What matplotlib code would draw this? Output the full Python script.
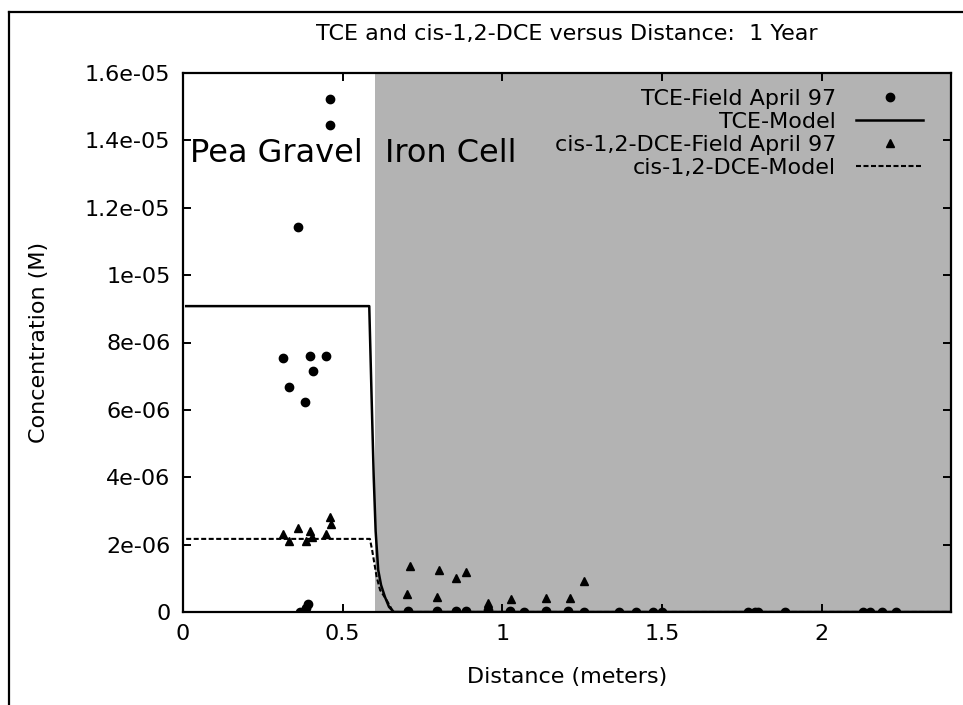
import matplotlib
matplotlib.use('Agg')
import matplotlib.pyplot as plt
from matplotlib.lines import Line2D
from matplotlib.ticker import FormatStrFormatter

plt.rcParams['font.family'] = ['DejaVu Sans']

# field data, April 97 (distance in m, concentration in M)
tce_x = [0.46, 0.46, 0.36, 0.313, 0.397, 0.448, 0.407, 0.332, 0.382,
         0.366, 0.385, 0.39,
         0.704, 0.795, 0.854, 0.886, 0.955, 1.023, 1.067, 1.136, 1.205, 1.255,
         1.365, 1.418, 1.471, 1.499, 1.77, 1.79, 1.80, 1.884, 2.13, 2.15, 2.188, 2.232]
tce_y = [15.22e-6, 14.45e-6, 11.42e-6, 7.54e-6, 7.6e-6, 7.6e-6, 7.15e-6, 6.68e-6, 6.23e-6,
         0.0, 0.12e-6, 0.25e-6,
         0.02e-6, 0.02e-6, 0.02e-6, 0.02e-6, 0.05e-6, 0.02e-6, 0.0, 0.02e-6, 0.02e-6, 0.0,
         0.0, 0.0, 0.0, 0.0, 0.0, 0.0, 0.0, 0.0, 0.0, 0.0, 0.0, 0.0]

dce_x = [0.313, 0.332, 0.36, 0.385, 0.397, 0.403, 0.448, 0.46, 0.463,
         0.71, 0.70, 0.80, 0.795, 0.854, 0.886, 0.955, 1.026, 1.136, 1.21, 1.255]
dce_y = [2.31e-6, 2.1e-6, 2.49e-6, 2.1e-6, 2.4e-6, 2.22e-6, 2.31e-6, 2.82e-6, 2.61e-6,
         1.36e-6, 0.52e-6, 1.25e-6, 0.45e-6, 1.0e-6, 1.19e-6, 0.27e-6, 0.38e-6, 0.41e-6,
         0.41e-6, 0.92e-6]

# model curves
tce_model_x = [0.01, 0.583, 0.59, 0.597, 0.603, 0.611, 0.62, 0.632, 0.645, 0.66, 2.404]
tce_model_y = [9.08e-6, 9.08e-6, 6.5e-6, 4.0e-6, 2.4e-6, 1.25e-6, 0.8e-6, 0.45e-6, 0.15e-6, 0.0, 0.0]

dce_model_x = [0.01, 0.585, 0.592, 0.606, 0.617, 0.637, 0.658, 2.404]
dce_model_y = [2.17e-6, 2.17e-6, 1.84e-6, 1.05e-6, 0.65e-6, 0.36e-6, 0.0, 0.0]

iron_start = 0.6
x_max = 2.404
y_max = 1.6e-5

fs = 16

fig = plt.figure(figsize=(9.63, 7.05), dpi=100)
ax = fig.add_axes([183/963, 1 - 612/705, (951 - 183)/963, (612 - 73)/705])

ax.axvspan(iron_start, x_max, color='#b3b3b3', zorder=0, lw=0)

ax.plot(tce_x, tce_y, 'o', color='black', markersize=6, label='TCE-Field April 97', zorder=3)
ax.plot(tce_model_x, tce_model_y, '-', color='black', lw=1.8, label='TCE-Model', zorder=2)
ax.plot(dce_x, dce_y, '^', color='black', markersize=6, label='cis-1,2-DCE-Field April 97', zorder=3)
ax.plot(dce_model_x, dce_model_y, color='black', lw=1.5, dashes=(2.4, 1.2),
        label='cis-1,2-DCE-Model', zorder=2)

ax.text(0.022, 13.6e-6, 'Pea Gravel', fontsize=23, va='center', ha='left')
ax.text(0.632, 13.6e-6, 'Iron Cell', fontsize=23, va='center', ha='left')

ax.set_xlim(0, x_max)
ax.set_ylim(0, y_max)
ax.set_xticks([0, 0.5, 1, 1.5, 2])
ax.set_yticks([i * 2e-6 for i in range(9)])
ax.xaxis.set_major_formatter(FormatStrFormatter('%g'))
ax.yaxis.set_major_formatter(FormatStrFormatter('%g'))
ax.tick_params(direction='in', length=6, width=1.4, top=True, right=True,
               labelsize=fs, pad=9)
for s in ax.spines.values():
    s.set_linewidth(1.6)

ax.set_xlabel('Distance (meters)', fontsize=fs, labelpad=16)
ax.set_ylabel('Concentration (M)', fontsize=fs, labelpad=26)
ax.set_title('TCE and cis-1,2-DCE versus Distance:  1 Year', fontsize=fs, pad=24)

ax.legend(loc='upper right', bbox_to_anchor=(0.9635, 0.971), frameon=False,
          markerfirst=False, fontsize=fs, handlelength=3.0, handletextpad=0.9,
          labelspacing=0.14, borderaxespad=0, borderpad=0, numpoints=1)

# outer window frame
fig.add_artist(Line2D([9/963, 9/963], [0, 1 - 12/705], transform=fig.transFigure,
                      color='black', lw=1.6))
fig.add_artist(Line2D([9/963, 1], [1 - 12/705, 1 - 12/705], transform=fig.transFigure,
                      color='black', lw=1.6))

fig.savefig('out.png', dpi=100)
